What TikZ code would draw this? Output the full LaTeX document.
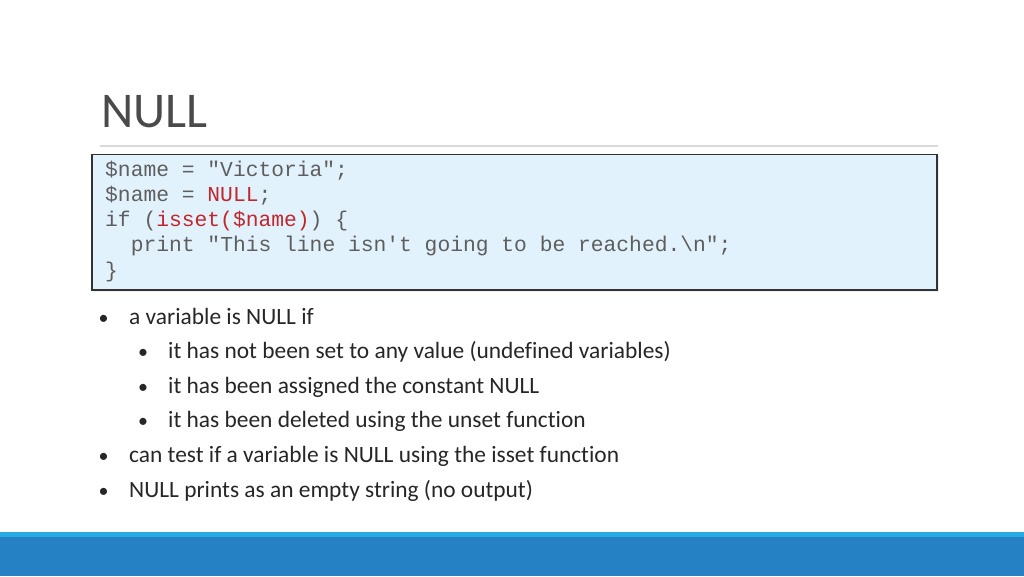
\documentclass[tikz,border=0pt]{standalone}
\usepackage{fontspec}
\setmainfont[Ligatures={NoCommon}]{Carlito}
\setmonofont{Liberation Mono}
\usetikzlibrary{positioning}
\definecolor{titlegray}{HTML}{4A4A4A}
\definecolor{rulegray}{HTML}{D9D9D9}
\definecolor{boxfill}{HTML}{E1F2FD}
\definecolor{boxline}{HTML}{333333}
\definecolor{codegray}{HTML}{5E5E5E}
\definecolor{codered}{HTML}{C0272D}
\definecolor{textdark}{HTML}{262626}
\definecolor{barblue}{HTML}{2580C4}
\definecolor{barlight}{HTML}{2AAAE2}
\tikzset{
  code/.style={anchor=base west, inner sep=0pt, text=codegray,
    font=\ttfamily\fontsize{21.3}{25}\selectfont},
  item/.style={anchor=base west, inner sep=0pt, text=textdark,
    font=\fontsize{23.4}{28}\selectfont},
  dot/.style={anchor=base, inner sep=0pt, text=textdark,
    font=\fontsize{20}{24}\selectfont}
}

\begin{document}
\begin{tikzpicture}[x=1pt,y=-1pt]
        \useasboundingbox (0,0) rectangle (1024,576);
        % --- Title ---
        \node[anchor=base west, inner sep=0pt, text=titlegray,
              font=\fontsize{50}{60}\selectfont] (title) at (101,127) {NULL};
        \draw[rulegray, line width=2pt] (100,146) -- (938,146);
        % --- Code box ---
        \fill[black!7] (93.5,156) rectangle (938.5,291.5);
        \filldraw[fill=boxfill, draw=boxline, line width=1.6pt] (92,154.5) rectangle (937,290);
        \node[code] (c1) at (105,176) {\$name = "Victoria";};
        \node[code] (c2) at (105,201.3) {\$name = \textcolor{codered}{NULL};};
        \node[code] (c3) at (105,226.6) {if (\textcolor{codered}{isset(\$name)}) \{};
        \node[code] (c4) at (130.6,251.9) {print "This line isn't going to be reached.\textbackslash n";};
        \node[code] (c5) at (105,277.2) {\}};
        % --- Bullets ---
        \foreach \y/\xd/\xt/\txt in {
            324/103.5/129/{a variable is NULL if},
            358.6/143/168/{it has not been set to any value (undefined variables)},
            393.2/143/168/{it has been assigned the constant NULL},
            427.8/143/168/{it has been deleted using the unset function},
            462.4/103.5/129/{can test if a variable is NULL using the isset function},
            497/103.5/129/{NULL prints as an empty string (no output)}} {
            \node[dot] (d\y) at (\xd,\y) {\textbullet};
            \node[item] (t\y) at (\xt,\y) {\txt};
        }
        % --- Footer bar ---
        \fill[barblue] (0,537) rectangle (1024,576);
        \fill[barlight] (0,531.5) rectangle (1024,537);
\end{tikzpicture}
\end{document}
